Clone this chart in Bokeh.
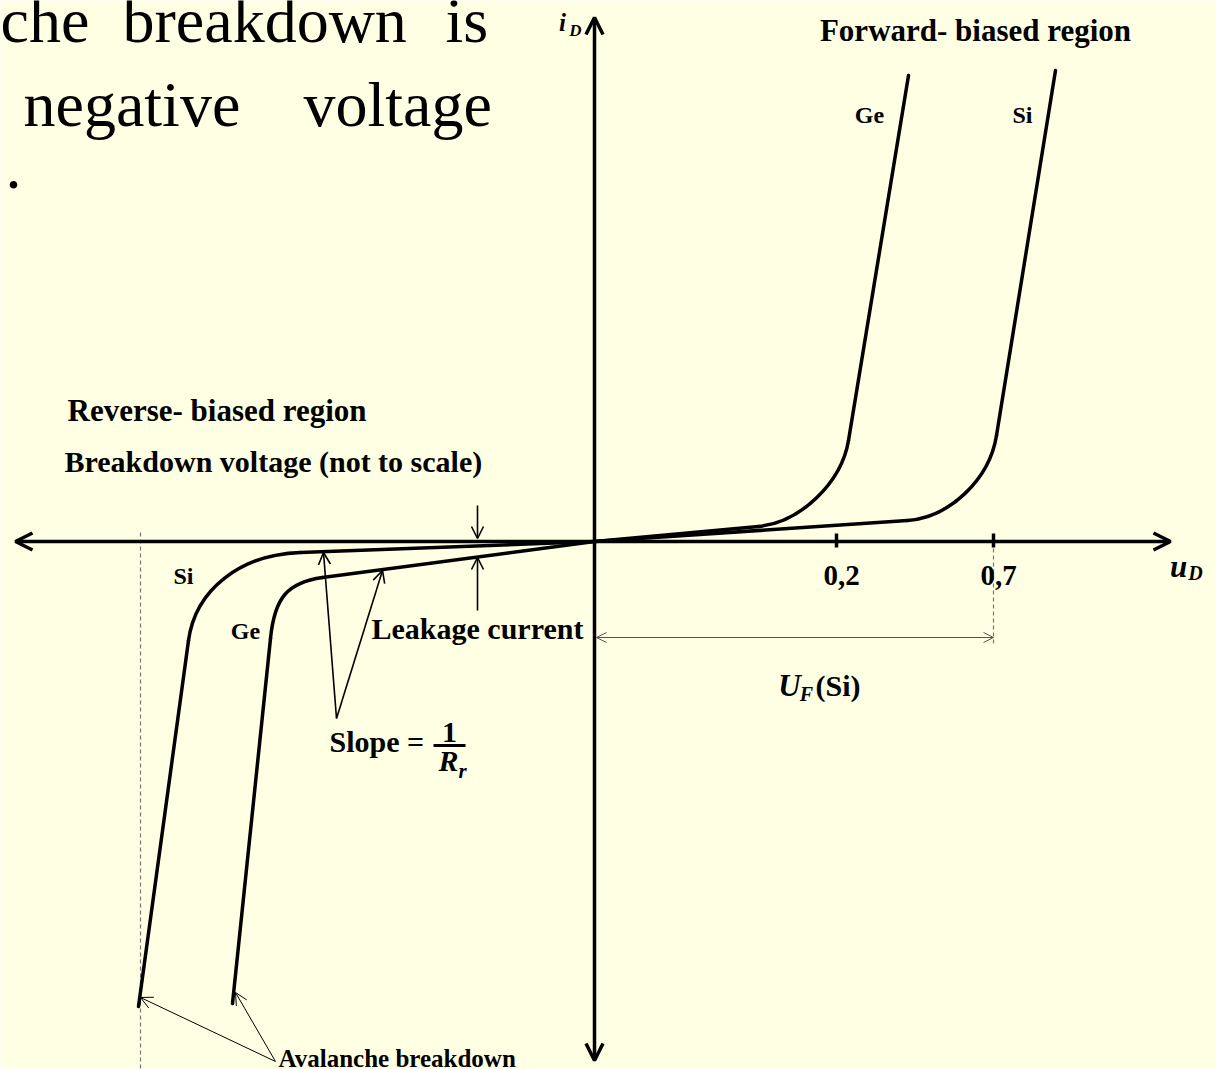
from bokeh.plotting import figure
from bokeh.models import Range1d, Arrow, OpenHead
from bokeh.embed import file_html
from bokeh.resources import INLINE
from bokeh.core.properties import value

# ---------------- data (diagram units: u_D to the right, i_D upward; origin at axes crossing)
# each characteristic: origin -> start of knee -> end of knee -> end of steep branch
ge_fwd_u = [0, 164, 254, 314]
ge_fwd_i = [0, 15, 101, 466]
ge_fwd_ctrl_u = [206, 247]
ge_fwd_ctrl_i = [19, 59]

si_fwd_u = [0, 313, 402, 461]
si_fwd_i = [0, 21, 106, 471]
si_fwd_ctrl_u = [355, 395]
si_fwd_ctrl_i = [24, 62]

si_rev_u = [0, -294, -406, -456]
si_rev_i = [0, -11, -99, -465]
si_rev_ctrl_u = [-354, -399]
si_rev_ctrl_i = [-13, -48]

ge_rev_u = [0, -272, -324, -362]
ge_rev_i = [0, -36, -97, -462]
ge_rev_ctrl_u = [-307, -320]
ge_rev_ctrl_i = [-41, -56]

tick_u = [242, 399]
tick_labels = ["0,2", "0,7"]
si_breakdown_u = -454
uf_si_u = 399

x_axis_u = [-579, 576]
y_axis_i = [-519, 524]

# ---------------- figure
BG = "#FFFFE4"
FONT = "Liberation Serif"
W, H = 1216, 1069
p = figure(width=W, height=H, x_range=Range1d(-594, 622), y_range=Range1d(-528, 541),
           x_axis_type=None, y_axis_type=None, toolbar_location=None,
           output_backend="svg", min_border=0, outline_line_color=None,
           background_fill_color=BG, border_fill_color=BG)


def txt(x, y, s, size, style="bold", align="left", baseline="middle"):
    p.text(x=[x], y=[y], text=[s], text_font=value(FONT), text_font_size=f"{size}px",
           text_font_style=style, text_align=align, text_baseline=baseline,
           text_color="black")


def arrow(x0, y0, x1, y1, lw, size, color="black", both=False):
    head = OpenHead(size=size, line_width=lw, line_color=color)
    kw = dict(end=head, x_start=x0, y_start=y0, x_end=x1, y_end=y1,
              line_width=lw, line_color=color)
    if both:
        kw["start"] = OpenHead(size=size, line_width=lw, line_color=color)
    p.add_layout(Arrow(**kw))


# dashed guide lines
p.line([si_breakdown_u, si_breakdown_u], [9, -540], line_color="#777777",
       line_width=1.2, line_dash="4 3")
p.line([uf_si_u, uf_si_u], [0, -102], line_color="#777777", line_width=1.2,
       line_dash="4 3")

# axes
arrow(x_axis_u[1], 0, x_axis_u[0], 0, 3.5, 17, both=True)
arrow(0, y_axis_i[0], 0, y_axis_i[1], 3.5, 17, both=True)

# ticks
for tu, tl in zip(tick_u, tick_labels):
    p.line([tu, tu], [8, -6], line_color="black", line_width=3.5)
    txt(tu + 5, -34, tl, 29, align="center")

# characteristics
for u, i, cu, ci in [(ge_fwd_u, ge_fwd_i, ge_fwd_ctrl_u, ge_fwd_ctrl_i),
                     (si_fwd_u, si_fwd_i, si_fwd_ctrl_u, si_fwd_ctrl_i),
                     (si_rev_u, si_rev_i, si_rev_ctrl_u, si_rev_ctrl_i),
                     (ge_rev_u, ge_rev_i, ge_rev_ctrl_u, ge_rev_ctrl_i)]:
    p.line(u[0:2], i[0:2], line_color="black", line_width=3.5, line_cap="round")
    p.bezier(x0=[u[1]], y0=[i[1]], x1=[u[2]], y1=[i[2]], cx0=[cu[0]], cy0=[ci[0]],
             cx1=[cu[1]], cy1=[ci[1]], line_color="black", line_width=3.5,
             line_cap="round")
    p.line(u[2:4], i[2:4], line_color="black", line_width=3.5, line_cap="round")

# dimension line U_F(Si)
arrow(2, -96, uf_si_u, -96, 1, 10, color="#555555", both=True)

# leakage current arrows
arrow(-117, 36, -117, 3, 1.6, 12)
arrow(-117, -69, -117, -16, 1.6, 12)

# slope arrows
arrow(-258, -177, -271, -11, 1.6, 12)
arrow(-258, -177, -212, -29, 1.6, 12)

# avalanche arrows
arrow(-319, -520, -454, -456, 1, 12)
arrow(-319, -520, -359, -451, 1, 12)

# fraction bar
p.line([-161, -129], [-204, -204], line_color="black", line_width=3)

# ---------------- texts
# slide body text (partly cut off at the left/top)
txt(-594, 521, "che", 64, style="normal")
txt(-472, 521, "breakdown", 64, style="normal")
txt(-149, 521, "is", 64, style="normal")
txt(-571, 437, "negative", 64, style="normal")
txt(-291, 437, "voltage", 64, style="normal")
txt(-589, 375, ".", 64, style="normal")

txt(381, 511, "Forward- biased region", 31, align="center")
txt(-527, 131, "Reverse- biased region", 31)
txt(-530, 80, "Breakdown voltage (not to scale)", 30)
txt(-117, -87, "Leakage current", 30, align="center")
txt(-265, -200, "Slope =", 30)
txt(-145, -191, "1", 30, align="center")
txt(-146, -219, "R", 30, style="bold italic", align="center")
txt(-132, -229, "r", 21, style="bold italic", align="center")
txt(-316, -517, "Avalanche breakdown", 25)

txt(275, 427, "Ge", 24, align="center")
txt(428, 427, "Si", 24, align="center")
txt(-411, -34, "Si", 24, align="center")
txt(-349, -89, "Ge", 24, align="center")

txt(-32, 519, "i", 25, style="bold italic", align="center")
txt(-19, 511, "D", 17, style="bold italic", align="center")
txt(584, -25, "u", 31, style="bold italic", align="center")
txt(601, -31, "D", 20, style="bold italic", align="center")

txt(195, -144, "U", 31, style="bold italic", align="center")
txt(212, -152, "F", 20, style="bold italic", align="center")
txt(221, -144, "(Si)", 30)

open("out.html", "w").write(file_html(p, INLINE))
